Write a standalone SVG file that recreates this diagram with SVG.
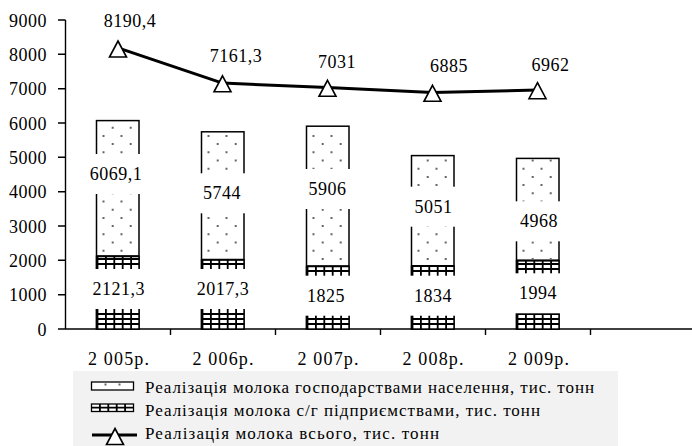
<svg xmlns="http://www.w3.org/2000/svg" width="692" height="446" viewBox="0 0 692 446">
<style>
.axis{stroke:#000;stroke-width:1.4;fill:none}
.dotbar{fill:#fff;stroke:#000;stroke-width:1.5}
.dots{fill:none;stroke:#666;stroke-width:2;stroke-dasharray:2 14.4}
.gridbar{fill:#fff;stroke:#000;stroke-width:1.4}
.grid{fill:none;stroke:#000;stroke-width:1.8}
.mask{fill:#fff;stroke:none}
.tri{fill:#fff;stroke:#000;stroke-width:1.6}
</style>

<g id="axes">
<line class="axis" x1="65.5" y1="20" x2="65.5" y2="329"/>
<line class="axis" x1="58" y1="329" x2="692" y2="329"/>
<path class="axis" d="M58,20H65.5M58,54.3H65.5M58,88.7H65.5M58,123H65.5M58,157.3H65.5M58,191.7H65.5M58,226H65.5M58,260.3H65.5M58,294.7H65.5M170.5,329V335M275.5,329V335M380.5,329V335M485.5,329V335M590.5,329V335"/>
<g font-family="Liberation Serif" font-size="18" letter-spacing="0.5" text-anchor="end">
<text font-family="Liberation Serif" font-size="18" x="47" y="26.5">9000</text>
<text font-family="Liberation Serif" font-size="18" x="47" y="60.8">8000</text>
<text font-family="Liberation Serif" font-size="18" x="47" y="95.2">7000</text>
<text font-family="Liberation Serif" font-size="18" x="47" y="129.5">6000</text>
<text font-family="Liberation Serif" font-size="18" x="47" y="163.8">5000</text>
<text font-family="Liberation Serif" font-size="18" x="47" y="198.2">4000</text>
<text font-family="Liberation Serif" font-size="18" x="47" y="232.5">3000</text>
<text font-family="Liberation Serif" font-size="18" x="47" y="266.8">2000</text>
<text font-family="Liberation Serif" font-size="18" x="47" y="301.2">1000</text>
<text font-family="Liberation Serif" font-size="18" x="47" y="335.5">0</text>
</g>
<g font-family="Liberation Serif" font-size="18">
<text font-family="Liberation Serif" font-size="18" x="88" y="365" textLength="61" lengthAdjust="spacing">2 005р.</text>
<text font-family="Liberation Serif" font-size="18" x="192.5" y="365" textLength="61" lengthAdjust="spacing">2 006р.</text>
<text font-family="Liberation Serif" font-size="18" x="297.5" y="365" textLength="61" lengthAdjust="spacing">2 007р.</text>
<text font-family="Liberation Serif" font-size="18" x="402.5" y="365" textLength="61" lengthAdjust="spacing">2 008р.</text>
<text font-family="Liberation Serif" font-size="18" x="508" y="365" textLength="61" lengthAdjust="spacing">2 009р.</text>
</g>
</g>

<g id="bar-2005" transform="translate(96.5,0)">
<rect class="dotbar" x="0" y="120.6" width="42.5" height="208.4"/>
<path class="dots" d="M7,134.9V255M25,134.9V255M16.2,126.7V255M34.2,126.7V255"/>
<rect class="gridbar" x="0" y="256.2" width="42.5" height="72.8"/>
<path class="grid" d="M1,256.2V329M9.4,256.2V329M17.8,256.2V329M26.2,256.2V329M34.6,256.2V329M0,259H42.5M0,264H42.5M0,314H42.5M0,319H42.5M0,324H42.5"/>
<line x1="0" y1="256.2" x2="42.5" y2="256.2" stroke="#000" stroke-width="2"/>
<rect class="mask" x="-10" y="154" width="62.5" height="40"/>
<rect class="mask" x="-10" y="269" width="62.5" height="40"/>
<text font-family="Liberation Serif" font-size="18" letter-spacing="0.5" text-anchor="middle" x="19.5" y="180">6069,1</text>
<text font-family="Liberation Serif" font-size="18" letter-spacing="0.5" text-anchor="middle" x="22.2" y="295">2121,3</text>
</g>
<g id="bar-2006" transform="translate(201.5,0)">
<rect class="dotbar" x="0" y="131.8" width="42.5" height="197.2"/>
<path class="dots" d="M7,134.9V258M25,134.9V258M16.2,143.1V258M34.2,143.1V258"/>
<rect class="gridbar" x="0" y="259.7" width="42.5" height="69.3"/>
<path class="grid" d="M1,259.7V329M9.4,259.7V329M17.8,259.7V329M26.2,259.7V329M34.6,259.7V329M0,264H42.5M0,314H42.5M0,319H42.5M0,324H42.5"/>
<line x1="0" y1="259.7" x2="42.5" y2="259.7" stroke="#000" stroke-width="2"/>
<rect class="mask" x="-10" y="173.3" width="62.5" height="40"/>
<rect class="mask" x="-10" y="269" width="62.5" height="40"/>
<text font-family="Liberation Serif" font-size="18" letter-spacing="0.5" text-anchor="middle" x="20.5" y="199.3">5744</text>
<text font-family="Liberation Serif" font-size="18" letter-spacing="0.5" text-anchor="middle" x="21.5" y="295">2017,3</text>
</g>
<g id="bar-2007" transform="translate(306.5,0)">
<rect class="dotbar" x="0" y="126.2" width="42.5" height="202.8"/>
<path class="dots" d="M7,134.9V265M25,134.9V265M16.2,143.1V265M34.2,143.1V265"/>
<rect class="gridbar" x="0" y="266.3" width="42.5" height="62.7"/>
<path class="grid" d="M1,266.3V329M9.4,266.3V329M17.8,266.3V329M26.2,266.3V329M34.6,266.3V329M0,271H42.5M0,319H42.5M0,324H42.5"/>
<line x1="0" y1="266.3" x2="42.5" y2="266.3" stroke="#000" stroke-width="2"/>
<rect class="mask" x="-10" y="169" width="62.5" height="40"/>
<rect class="mask" x="-10" y="275.7" width="62.5" height="40"/>
<text font-family="Liberation Serif" font-size="18" letter-spacing="0.5" text-anchor="middle" x="21" y="195">5906</text>
<text font-family="Liberation Serif" font-size="18" letter-spacing="0.5" text-anchor="middle" x="19.5" y="301.7">1825</text>
</g>
<g id="bar-2008" transform="translate(411.5,0)">
<rect class="dotbar" x="0" y="155.6" width="42.5" height="173.4"/>
<path class="dots" d="M7,167.7V265M25,167.7V265M16.2,159.5V265M34.2,159.5V265"/>
<rect class="gridbar" x="0" y="266" width="42.5" height="63"/>
<path class="grid" d="M1,266V329M9.4,266V329M17.8,266V329M26.2,266V329M34.6,266V329M0,271H42.5M0,319H42.5M0,324H42.5"/>
<line x1="0" y1="266" x2="42.5" y2="266" stroke="#000" stroke-width="2"/>
<rect class="mask" x="-10" y="186.7" width="62.5" height="40"/>
<rect class="mask" x="-10" y="275.7" width="62.5" height="40"/>
<text font-family="Liberation Serif" font-size="18" letter-spacing="0.5" text-anchor="middle" x="22" y="212.7">5051</text>
<text font-family="Liberation Serif" font-size="18" letter-spacing="0.5" text-anchor="middle" x="21.5" y="301.7">1834</text>
</g>
<g id="bar-2009" transform="translate(516.5,0)">
<rect class="dotbar" x="0" y="158.4" width="42.5" height="170.6"/>
<path class="dots" d="M7,167.7V259M25,167.7V259M16.2,159.5V259M34.2,159.5V259"/>
<rect class="gridbar" x="0" y="260.5" width="42.5" height="68.5"/>
<path class="grid" d="M1,260.5V329M9.4,260.5V329M17.8,260.5V329M26.2,260.5V329M34.6,260.5V329M0,264H42.5M0,269H42.5M0,314H42.5M0,319H42.5M0,324H42.5"/>
<line x1="0" y1="260.5" x2="42.5" y2="260.5" stroke="#000" stroke-width="2"/>
<rect class="mask" x="-10" y="201.3" width="62.5" height="40"/>
<rect class="mask" x="-10" y="273.3" width="62.5" height="40"/>
<text font-family="Liberation Serif" font-size="18" letter-spacing="0.5" text-anchor="middle" x="22.5" y="227.3">4968</text>
<text font-family="Liberation Serif" font-size="18" letter-spacing="0.5" text-anchor="middle" x="21.5" y="299.3">1994</text>
</g>

<g id="connectors">
<polyline points="118,47.8 222.5,83.1 327.5,87.6 432.5,92.6 537.5,90" fill="none" stroke="#000" stroke-width="3" stroke-linejoin="round"/>
</g>

<g id="total-line-markers">
<polygon class="tri" points="118,41 126.5,57 109.5,57"/>
<polygon class="tri" points="222.5,75.8 231,91.8 214,91.8"/>
<polygon class="tri" points="327.5,80.3 336,96.3 319,96.3"/>
<polygon class="tri" points="432.5,85.3 441,101.3 424,101.3"/>
<polygon class="tri" points="537.5,82.7 546,98.7 529,98.7"/>
<text font-family="Liberation Serif" font-size="18" letter-spacing="0.5" text-anchor="middle" x="130" y="27">8190,4</text>
<text font-family="Liberation Serif" font-size="18" letter-spacing="0.5" text-anchor="middle" x="236" y="61.5">7161,3</text>
<text font-family="Liberation Serif" font-size="18" letter-spacing="0.5" text-anchor="middle" x="337" y="68.3">7031</text>
<text font-family="Liberation Serif" font-size="18" letter-spacing="0.5" text-anchor="middle" x="449" y="72">6885</text>
<text font-family="Liberation Serif" font-size="18" letter-spacing="0.5" text-anchor="middle" x="550.5" y="70.7">6962</text>
</g>

<g id="legend">
<rect x="73" y="371" width="545" height="75" fill="#f2f2f2"/>
<g transform="translate(91.5,0)">
<rect x="0" y="382" width="42" height="8" fill="#fff" stroke="#000" stroke-width="1.3"/>
<rect x="13" y="383.5" width="2" height="2" fill="#666"/>
<rect x="27" y="383.5" width="2" height="2" fill="#666"/>
<rect x="0" y="404" width="42" height="7.5" fill="#fff" stroke="#000" stroke-width="1.3"/>
<path class="grid" d="M8.4,404V411.5M16.8,404V411.5M25.2,404V411.5M33.6,404V411.5M0,407.7H42"/>
</g>
<line x1="92" y1="435" x2="137" y2="435" stroke="#000" stroke-width="3"/>
<polygon class="tri" points="115,428.5 123.5,444.5 106.5,444.5"/>
<text font-family="Liberation Serif" font-size="17" x="145" y="393" textLength="449" lengthAdjust="spacing">Реалізація молока господарствами населення, тис. тонн</text>
<text font-family="Liberation Serif" font-size="17" x="145" y="415.5" textLength="395" lengthAdjust="spacing">Реалізація молока с/г підприємствами, тис. тонн</text>
<text font-family="Liberation Serif" font-size="17" x="145" y="438.5" textLength="294" lengthAdjust="spacing">Реалізація молока всього, тис. тонн</text>
</g>
</svg>
